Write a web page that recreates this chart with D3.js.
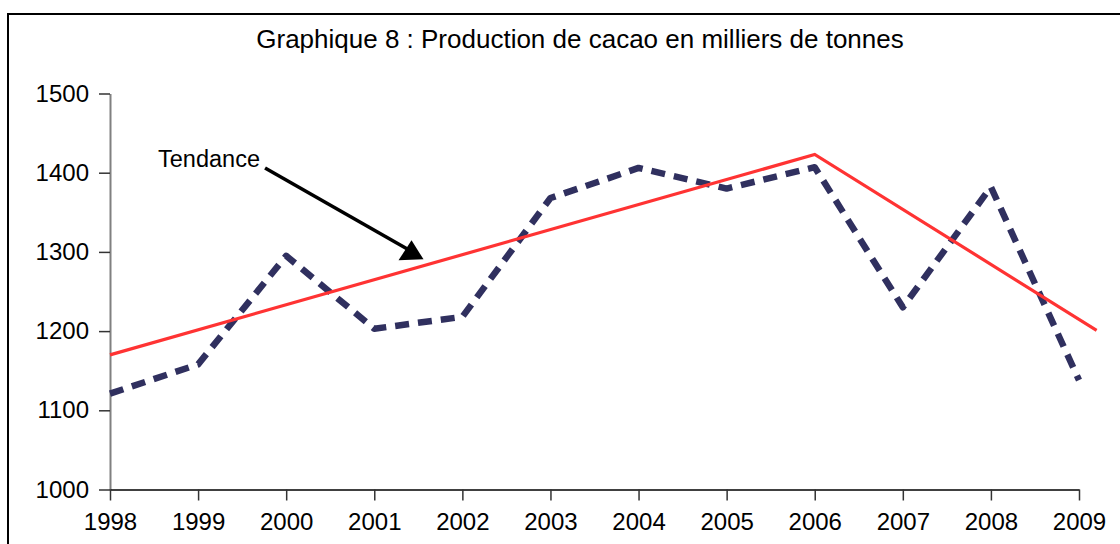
<!DOCTYPE html>
<html>
<head>
<meta charset="utf-8">
<script src="https://cdn.jsdelivr.net/npm/d3@7"></script>
<style>
  body { margin: 0; background: #fff; }
  svg { display: block; font-family: "Liberation Sans", Arial, sans-serif; }
</style>
</head>
<body>
<div id="chart"></div>
<script>
// chart data
let years = [1998, 1999, 2000, 2001, 2002, 2003, 2004, 2005, 2006, 2007, 2008, 2009];
let production = [1121, 1158, 1295, 1203, 1218, 1368, 1406, 1380, 1407, 1230, 1382, 1138];
let trendYears = [1998, 2006, 2009.2];
let trendValues = [1170, 1423, 1201];
let yTicks = [1000, 1100, 1200, 1300, 1400, 1500];
let titleText = "Graphique 8 : Production de cacao en milliers de tonnes";
let noteText = "Tendance";
// annotation arrow: [year, value] of tail and head
let arrowFrom = [1999.76, 1406];
let arrowTo = [2001.4, 1302];

let W = 1120, H = 544;

let svg = d3.select('#chart')
  .append('svg')
  .attr('width', W)
  .attr('height', H);

// frame
svg.append('rect')
  .attr('x', 8).attr('y', 14)
  .attr('width', W + 20).attr('height', H + 20)
  .attr('fill', 'none')
  .attr('stroke', '#000')
  .attr('stroke-width', 2);

let x = d3.scaleLinear().domain([1998, 2009]).range([110, 1079]);
let y = d3.scaleLinear().domain([1000, 1500]).range([489.5, 93.5]);

// title
svg.append('text')
  .attr('x', 580).attr('y', 48)
  .attr('text-anchor', 'middle')
  .style('font-size', '26px')
  .attr('fill', '#000')
  .text(titleText);

// y axis
let yAxis = svg.append('g')
  .attr('transform', 'translate(110,0)')
  .call(d3.axisLeft(y).tickValues(yTicks).tickFormat(d3.format('d')).tickSizeInner(11).tickSizeOuter(0).tickPadding(10));
yAxis.select('.domain').attr('stroke', '#808080').attr('stroke-width', 2);
yAxis.selectAll('.tick line').attr('stroke', '#333').attr('stroke-width', 1.5);
yAxis.selectAll('.tick text').style('font-size', '24px').attr('fill', '#000').attr('font-family', null);

// x axis
let xAxis = svg.append('g')
  .attr('transform', `translate(0,${y(1000)})`)
  .call(d3.axisBottom(x).tickValues(years).tickFormat(d3.format('d')).tickSizeInner(11).tickSizeOuter(0).tickPadding(12));
xAxis.select('.domain').attr('stroke', '#000').attr('stroke-width', 1.5);
xAxis.selectAll('.tick line').attr('stroke', '#333').attr('stroke-width', 1.5);
xAxis.selectAll('.tick text').style('font-size', '24px').attr('fill', '#000').attr('font-family', null);

// production line (dashed)
let line = d3.line().x((d, i) => x(years[i])).y(d => y(d));
svg.append('path')
  .datum(production)
  .attr('d', line)
  .attr('fill', 'none')
  .attr('stroke', '#30305f')
  .attr('stroke-width', 6.5)
  .attr('stroke-dasharray', '14,9')
  .attr('stroke-linejoin', 'round');

// trend line
let trendLine = d3.line().x((d, i) => x(trendYears[i])).y(d => y(d));
svg.append('path')
  .datum(trendValues)
  .attr('d', trendLine)
  .attr('fill', 'none')
  .attr('stroke', '#ff3333')
  .attr('stroke-width', 3.2);

// annotation
svg.append('text')
  .attr('x', x(arrowFrom[0]) - 107).attr('y', y(arrowFrom[1]) - 1)
  .style('font-size', '23.5px')
  .attr('fill', '#000')
  .text(noteText);

let x1 = x(arrowFrom[0]), y1 = y(arrowFrom[1]);
let x2 = x(arrowTo[0]), y2 = y(arrowTo[1]);
svg.append('line')
  .attr('x1', x1).attr('y1', y1)
  .attr('x2', x2).attr('y2', y2)
  .attr('stroke', '#000')
  .attr('stroke-width', 3.5);
// triangle head, tip up like the source drawing
svg.append('path')
  .attr('d', `M${x2 + 2},${y2 - 10} L${x2 - 11},${y2 + 10} L${x2 + 14},${y2 + 9} Z`)
  .attr('fill', '#000');
</script>
</body>
</html>
